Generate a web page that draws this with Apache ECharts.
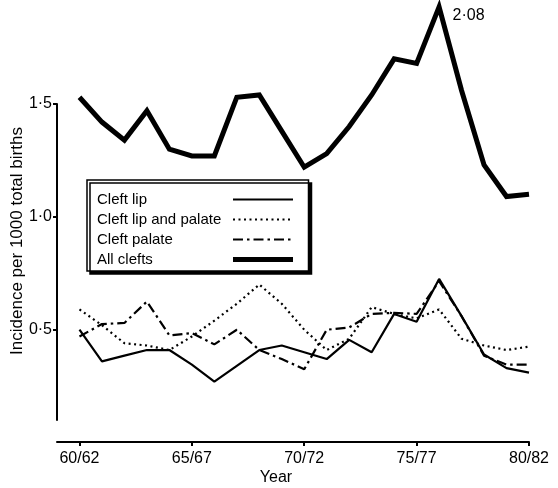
<!DOCTYPE html>
<html>
<head>
<meta charset="utf-8">
<script src="https://cdn.jsdelivr.net/npm/echarts@6/dist/echarts.min.js"></script>
<style>
html,body{margin:0;padding:0;background:#fff;}
#chart{width:558px;height:488px;}
</style>
</head>
<body>
<div id="chart"></div>
<script>
const categories = ['60/62','61/63','62/64','63/65','64/66','65/67','66/68','67/69','68/70','69/71','70/72','71/73','72/74','73/75','74/76','75/77','76/78','77/79','78/80','79/81','80/82'];
const xTickLabels = ['60/62','65/67','70/72','75/77','80/82'];
const yTickValues = [0.5, 1.0, 1.5];

const cleftLip = [0.50,0.36,0.385,0.41,0.41,0.345,0.27,0.34,0.41,0.43,0.40,0.37,0.455,0.40,0.57,0.535,0.725,0.56,0.39,0.33,0.31];
const cleftLipPalate = [0.59,0.52,0.44,0.43,0.41,0.47,0.54,0.615,0.70,0.615,0.50,0.41,0.46,0.60,0.57,0.55,0.59,0.46,0.43,0.41,0.425];
const cleftPalate = [0.47,0.525,0.53,0.625,0.475,0.485,0.435,0.50,0.41,0.37,0.325,0.50,0.51,0.57,0.575,0.57,0.715,0.56,0.385,0.345,0.345];
// peak drawn off-scale in the original (labelled 2·08)
const allClefts = [1.53,1.42,1.34,1.47,1.30,1.27,1.27,1.53,1.54,1.38,1.22,1.28,1.40,1.54,1.70,1.68,1.93,1.56,1.23,1.09,1.10];
const peakIndex = 16;
const peakNote = '2·08';

const FONT = 'Liberation Sans';
const toPairs = arr => arr.map((v, i) => [i, v]);
const xTickValues = xTickLabels.map(l => categories.indexOf(l));

const chart = echarts.init(document.getElementById('chart'), null, {renderer: 'canvas'});

const allData = toPairs(allClefts).map((p, i) => i === peakIndex ? {
  value: p,
  symbol: 'circle', symbolSize: 1,
  label: {show: true, position: 'right', formatter: peakNote, offset: [8, 9], color: '#000', fontFamily: FONT, fontSize: 16}
} : p);

chart.setOption({
  animation: false,
  backgroundColor: '#fff',
  textStyle: {fontFamily: FONT, color: '#000'},
  grid: {left: 57, right: 29, top: 104, bottom: 68, containLabel: false, outerBoundsMode: 'none'},
  xAxis: {
    type: 'value', min: -1, max: 20, offset: 22,
    name: 'Year', nameLocation: 'middle', nameGap: 28, nameMoveOverlap: false,
    nameTextStyle: {fontFamily: FONT, fontSize: 16, color: '#000', padding: [0, 34, 0, 0]},
    axisLine: {show: true, onZero: false, lineStyle: {color: '#000', width: 2}},
    axisTick: {show: true, length: 4, lineStyle: {color: '#000', width: 2}, customValues: xTickValues},
    axisLabel: {color: '#000', fontFamily: FONT, fontSize: 16, margin: 9, customValues: xTickValues,
      formatter: v => categories[Math.round(v)] || ''},
    splitLine: {show: false}
  },
  yAxis: {
    type: 'value', min: 0.1, max: 1.5,
    name: 'Incidence per 1000 total births', nameLocation: 'middle', nameGap: 31, nameMoveOverlap: false,
    nameTextStyle: {fontFamily: FONT, fontSize: 17, color: '#000', padding: [0, 0, 0, 42]},
    axisLine: {show: true, onZero: false, lineStyle: {color: '#000', width: 2}},
    axisTick: {show: true, length: 4, lineStyle: {color: '#000', width: 2}, customValues: yTickValues},
    axisLabel: {color: '#000', fontFamily: FONT, fontSize: 16, margin: 5, customValues: yTickValues,
      formatter: v => v.toFixed(1).replace('.', '·')},
    splitLine: {show: false}
  },
  legend: {
    orient: 'vertical', left: 87, top: 180, align: 'right',
    data: ['Cleft lip', 'Cleft lip and palate', 'Cleft palate', 'All clefts'],
    selectedMode: false,
    itemWidth: 60, itemHeight: 14, itemGap: 5,
    padding: [12, 13, 4, 10],
    backgroundColor: '#fff',
    borderColor: '#000', borderWidth: 1.5,
    shadowColor: '#000', shadowBlur: 0, shadowOffsetX: 3, shadowOffsetY: 3,
    itemStyle: {opacity: 0, color: 'rgba(0,0,0,0)', borderWidth: 0},
    lineStyle: {width: 'inherit', type: 'inherit'},
    formatter: name => '{t|' + name + '}',
    textStyle: {color: '#000', fontFamily: FONT, fontSize: 15,
      rich: {t: {width: 131, align: 'left', fontFamily: FONT, fontSize: 15, color: '#000'}}}
  },
  series: [
    {name: 'Cleft lip', type: 'line', data: toPairs(cleftLip), symbol: 'none', clip: false,
      lineStyle: {color: '#000', width: 2.2, type: 'solid'}, itemStyle: {color: '#000'}},
    {name: 'Cleft lip and palate', type: 'line', data: toPairs(cleftLipPalate), symbol: 'none', clip: false,
      lineStyle: {color: '#000', width: 2.2, type: [2, 3.5]}, itemStyle: {color: '#000'}},
    {name: 'Cleft palate', type: 'line', data: toPairs(cleftPalate), symbol: 'none', clip: false,
      lineStyle: {color: '#000', width: 2.2, type: [10, 4, 2.5, 4]}, itemStyle: {color: '#000'}},
    {name: 'All clefts', type: 'line', data: allData, symbol: 'none', showSymbol: true, clip: false,
      lineStyle: {color: '#000', width: 5, type: 'solid', join: 'miter'}, itemStyle: {color: '#000'}}
  ]
});
</script>
</body>
</html>
